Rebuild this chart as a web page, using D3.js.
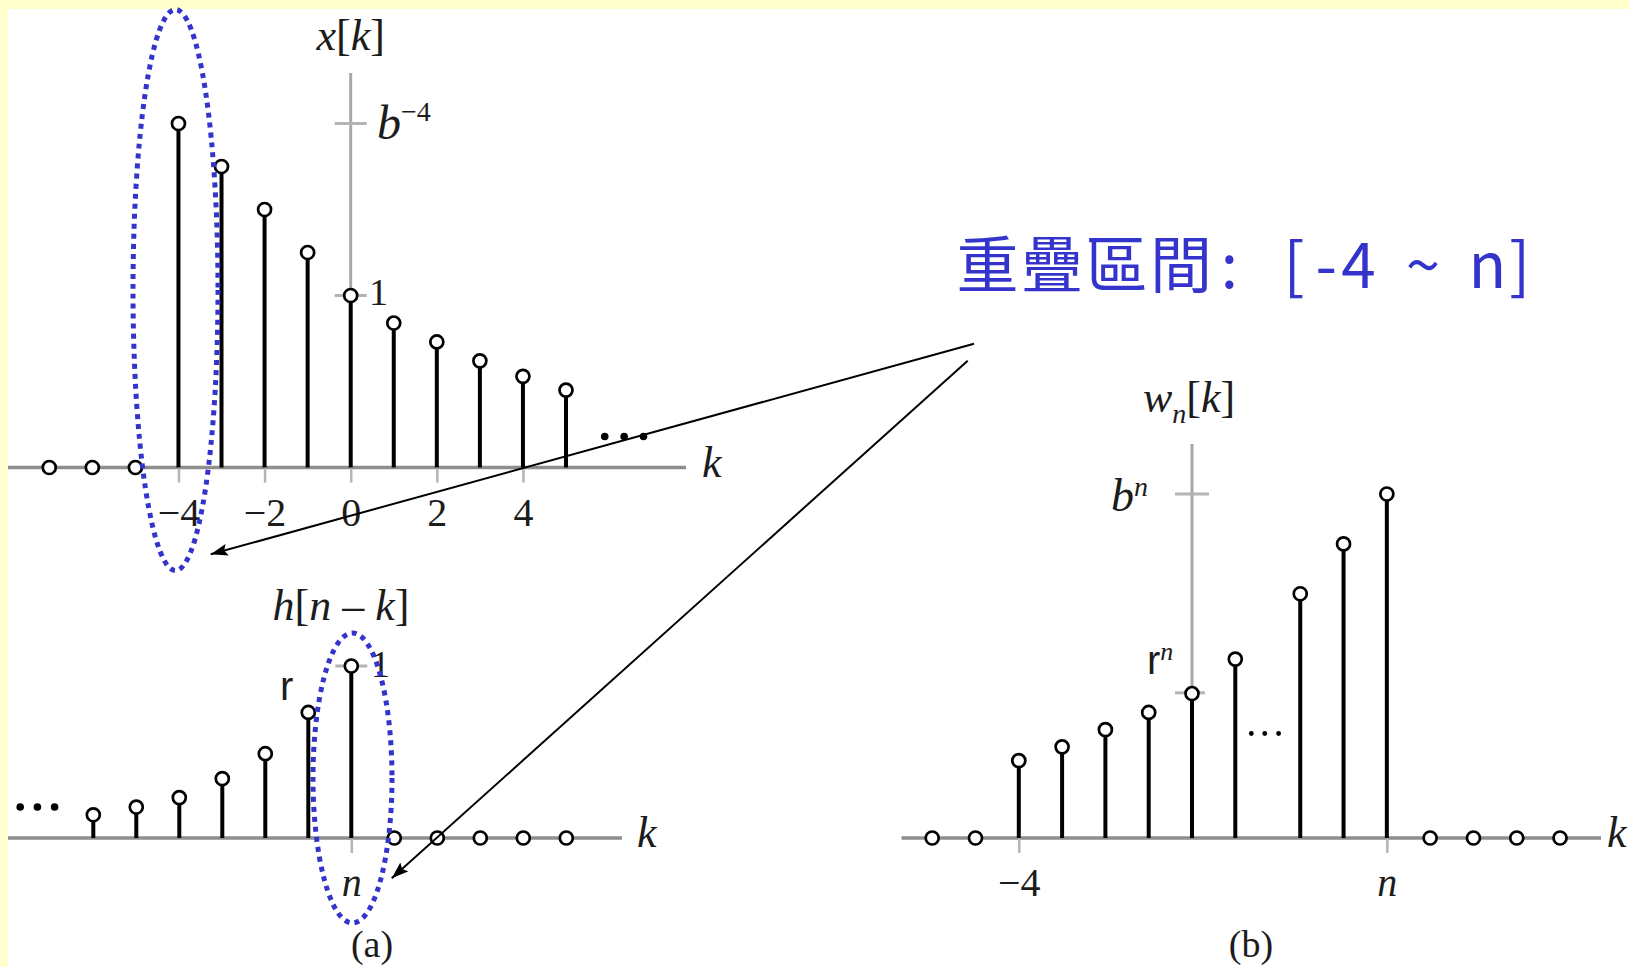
<!DOCTYPE html>
<html>
<head>
<meta charset="utf-8">
<script src="https://cdn.jsdelivr.net/npm/d3@7"></script>
<style>
  html, body { margin: 0; padding: 0; background: #fff; overflow: hidden; }
</style>
</head>
<body>
<svg id="fig" width="1629" height="967"></svg>
<script>
// ---- x[k]: input sequence (value 1 at k = 0) ----
const xK      = [-7, -6, -5, -4, -3, -2, -1, 0, 1, 2, 3, 4, 5];
const xVals   = [0, 0, 0, 2.0, 1.75, 1.5, 1.25, 1, 0.84, 0.73, 0.62, 0.53, 0.45];
const xTicks  = [-4, -2, 0, 2, 4];
const xTickLabels = ["\u22124", "\u22122", "0", "2", "4"];

// ---- h[n - k]: flipped impulse response, k measured from n ----
const hOffsets = [-6, -5, -4, -3, -2, -1, 0, 1, 2, 3, 4, 5];
const hVals    = [0.135, 0.18, 0.235, 0.345, 0.49, 0.73, 1, 0, 0, 0, 0, 0];

// ---- w_n[k] = x[k] h[n - k] ----
const wCats = ["-6", "-5", "-4", "-3", "-2", "-1", "0", "1", "n-2", "n-1", "n", "n+1", "n+2", "n+3", "n+4"];
const wVals = [0, 0, 0.45, 0.53, 0.63, 0.73, 0.84, 1.04, 1.42, 1.71, 2.0, 0, 0, 0, 0];
const wTickCats   = ["-4", "n"];
const wTickLabels = ["\u22124", "n"];

// ---- annotation ----
const noteText = "重疊區間: [-4 ~ n]";

const W = 1629, H = 967;
const serif = "'Liberation Serif','Times New Roman',serif";
const sans  = "'Liberation Sans',Arial,sans-serif";
const cjk   = "'Noto Sans CJK TC','Noto Sans CJK SC',sans-serif";
const INK = "#1c1c1c", AXIS = "#8e8e8e", VAXIS = "#a8a8a8", TICK = "#b4b4b4", BLUE = "#3434cc";

const svg = d3.select("#fig");

// page frame
svg.append("rect").attr("width", W).attr("height", H).attr("fill", "#fff");
svg.append("rect").attr("width", W).attr("height", 9).attr("fill", "#ffffcc");
svg.append("rect").attr("width", 7.5).attr("height", H).attr("fill", "#ffffcc");

const defs = svg.append("defs");
defs.append("marker")
  .attr("id", "arrowHead")
  .attr("viewBox", "0 0 17 12")
  .attr("refX", 17).attr("refY", 6)
  .attr("markerWidth", 17).attr("markerHeight", 12)
  .attr("markerUnits", "userSpaceOnUse")
  .attr("orient", "auto")
  .append("path").attr("d", "M0,0 L17,6 L0,12 L3,6 Z").attr("fill", "#000");

// ---------- helpers ----------
function hAxisLine(g, x0, x1, y) {
  g.append("line").attr("x1", x0).attr("x2", x1).attr("y1", y).attr("y2", y)
    .attr("stroke", AXIS).attr("stroke-width", 3.4);
}
function vAxisLine(g, x, y0, y1) {
  g.append("line").attr("x1", x).attr("x2", x).attr("y1", y0).attr("y2", y1)
    .attr("stroke", VAXIS).attr("stroke-width", 3);
}
function vTick(g, x, y, half) {
  g.append("line").attr("x1", x - half).attr("x2", x + half).attr("y1", y).attr("y2", y)
    .attr("stroke", TICK).attr("stroke-width", 3);
}
function bottomAxis(g, scale, values, labels, y, italicLabels) {
  const ax = d3.axisBottom(scale).tickValues(values).tickSize(15).tickPadding(15)
    .tickFormat((d, i) => labels[i]);
  const a = g.append("g").attr("transform", `translate(0,${y})`).call(ax);
  a.select(".domain").remove();
  a.selectAll(".tick line").attr("stroke", TICK).attr("stroke-width", 2.5);
  a.selectAll(".tick text")
    .attr("fill", INK).attr("font-family", serif).attr("font-size", 40)
    .attr("font-style", (d, i) => italicLabels && italicLabels[i] ? "italic" : "normal");
}
function stems(g, pts, xs, ys) {
  g.selectAll("line.stem").data(pts.filter(p => p.v > 0)).join("line")
    .attr("class", "stem")
    .attr("x1", p => xs(p.k)).attr("x2", p => xs(p.k))
    .attr("y1", ys(0)).attr("y2", p => ys(p.v))
    .attr("stroke", "#000").attr("stroke-width", 4);
  g.selectAll("circle.pt").data(pts).join("circle")
    .attr("class", "pt")
    .attr("cx", p => xs(p.k)).attr("cy", p => ys(p.v)).attr("r", 6.5)
    .attr("fill", "#fff").attr("stroke", "#000").attr("stroke-width", 2.7);
}
function dots(g, xsArr, y, r) {
  g.selectAll(null).data(xsArr).join("circle")
    .attr("cx", d => d).attr("cy", y).attr("r", r).attr("fill", "#000");
}
function label(g, x, y, parts, size, anchor, family) {
  const t = g.append("text").attr("x", x).attr("y", y)
    .attr("font-family", family || serif).attr("font-size", size)
    .attr("fill", INK).attr("text-anchor", anchor || "start");
  parts.forEach(p => {
    const s = t.append("tspan").text(p.t);
    if (p.i) s.attr("font-style", "italic");
    if (p.dy) s.attr("dy", p.dy);
    if (p.fs) s.attr("font-size", p.fs);
    if (p.ff) s.attr("font-family", p.ff);
  });
  return t;
}

// ---------- (a) top: x[k] ----------
const gA = svg.append("g");
const xA = d3.scaleLinear().domain([0, 1]).range([350.7, 393.76]);
const yA = d3.scaleLinear().domain([0, 1]).range([467.5, 295.5]);

hAxisLine(gA, 8, 686, yA(0));
vAxisLine(gA, xA(0), 73, yA(0));
vTick(gA, xA(0), yA(2.0), 16);
vTick(gA, xA(0), yA(1), 16);
bottomAxis(gA, xA, xTicks, xTickLabels, yA(0));
stems(gA, xK.map((k, i) => ({ k, v: xVals[i] })), xA, yA);
dots(gA, [xA(5.9), xA(6.35), xA(6.8)], yA(0) - 31, 3.8);

label(gA, xA(0), 50, [{ t: "x", i: 1 }, { t: "[" }, { t: "k", i: 1 }, { t: "]" }], 44, "middle");
label(gA, 377, 139, [{ t: "b", i: 1 }, { t: "\u22124", fs: 28, dy: -18 }], 48);
label(gA, 369, 305, [{ t: "1" }], 38);
label(gA, 702, 477, [{ t: "k", i: 1 }], 44);

// ---------- (a) bottom: h[n - k] ----------
const gH = svg.append("g");
const xH = d3.scaleLinear().domain([0, 1]).range([351.3, 394.3]);
const yH = d3.scaleLinear().domain([0, 1]).range([838, 666]);

hAxisLine(gH, 8, 622, yH(0));
vTick(gH, xH(0), yH(1), 16);
bottomAxis(gH, xH, [0], ["n"], yH(0), [true]);
stems(gH, hOffsets.map((k, i) => ({ k, v: hVals[i] })), xH, yH);
dots(gH, [xH(-7.7), xH(-7.3), xH(-6.9)], yH(0) - 31, 3.8);

label(gH, 341, 620, [{ t: "h", i: 1 }, { t: "[" }, { t: "n", i: 1 }, { t: " \u2013 " }, { t: "k", i: 1 }, { t: "]" }], 44, "middle");
label(gH, 280, 700, [{ t: "r" }], 40, "start", sans);
label(gH, 371, 677, [{ t: "1" }], 38);
label(gH, 637, 847, [{ t: "k", i: 1 }], 44);
label(gH, 372, 957, [{ t: "(a)" }], 38, "middle");

// ---------- (b): w_n[k] ----------
const gW = svg.append("g");
// slot position of each category; a gap of half a slot sits where the "..." is drawn
const wSlot = c => { const i = wCats.indexOf(c); return i - 6 + (i >= 8 ? 0.5 : 0); };
const xW = d3.scaleLinear().domain([0, 1]).range([1192, 1235.3]);
const yW = d3.scaleLinear().domain([0, 1]).range([838, 666]);

hAxisLine(gW, 901.5, 1601, yW(0));
vAxisLine(gW, xW(0), 444, yW(0));
vTick(gW, xW(0), yW(2.0), 17);
vTick(gW, xW(0) - 2, yW(0.844), 15);
bottomAxis(gW, xW, wTickCats.map(wSlot), wTickLabels, yW(0), [false, true]);
stems(gW, wCats.map((c, i) => ({ k: wSlot(c), v: wVals[i] })), xW, yW);
dots(gW, [xW(1.37), xW(1.68), xW(2.0)], 733.5, 2.4);

label(gW, 1143, 412, [{ t: "w", i: 1 }, { t: "n", i: 1, fs: 28, dy: 11 }, { t: "[", dy: -11 }, { t: "k", i: 1 }, { t: "]" }], 44);
label(gW, 1111, 511, [{ t: "b", i: 1 }, { t: "n", i: 1, fs: 28, dy: -15 }], 46);
label(gW, 1147, 674, [{ t: "r", ff: sans }, { t: "n", i: 1, fs: 26, dy: -14 }], 40);
label(gW, 1607, 847, [{ t: "k", i: 1 }], 44);
label(gW, 1251, 957, [{ t: "(b)" }], 38, "middle");

// ---------- overlap annotation ----------
const gN = svg.append("g");
// dotted ellipses marking the overlapping samples
gN.append("ellipse").attr("cx", 175.5).attr("cy", 290).attr("rx", 42.5).attr("ry", 280.5);
gN.append("ellipse").attr("cx", 352.5).attr("cy", 778).attr("rx", 39.5).attr("ry", 145);
gN.selectAll("ellipse").attr("fill", "none").attr("stroke", BLUE)
  .attr("stroke-width", 5).attr("stroke-dasharray", "5,5");

// arrows from the note to both marked ranges
gN.append("line").attr("x1", 974).attr("y1", 343.7).attr("x2", 210.7).attr("y2", 554.3);
gN.append("line").attr("x1", 967.7).attr("y1", 360.7).attr("x2", 391.7).attr("y2", 878.3);
gN.selectAll("line").attr("stroke", "#000").attr("stroke-width", 2).attr("marker-end", "url(#arrowHead)");

// note text on a fixed-pitch grid (full width for CJK, half width otherwise)
const chars = Array.from(noteText);
const full = 64.5, half = full / 2;
let cx = 955.3;
const cells = chars.map(ch => {
  const w = /[\u3000-\u9fff]/.test(ch) ? full : half;
  const c = { ch, x: cx + w / 2 };
  cx += w;
  return c;
});
gN.append("text").attr("y", 288).attr("font-family", cjk).attr("font-size", 62)
  .attr("fill", BLUE).attr("text-anchor", "middle")
  .selectAll("tspan").data(cells).join("tspan")
  .attr("x", d => d.x).text(d => d.ch === " " ? "\u00a0" : d.ch);
</script>
</body>
</html>
